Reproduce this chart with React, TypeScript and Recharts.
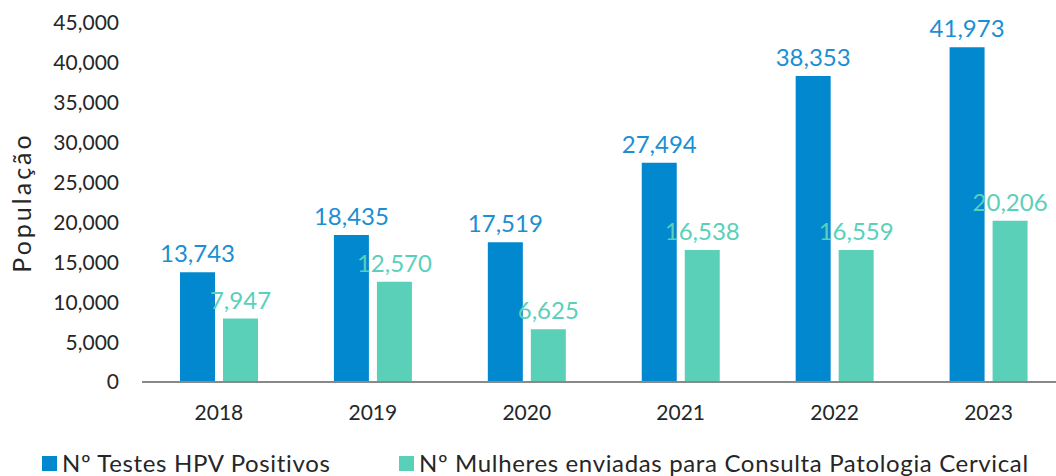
import React from 'react';
import { BarChart, Bar, XAxis, YAxis, Legend, LabelList, Label } from 'recharts';

const years = ['2018', '2019', '2020', '2021', '2022', '2023'];
const testesPositivos = [13743, 18435, 17519, 27494, 38353, 41973];
const mulheresEnviadas = [7947, 12570, 6625, 16538, 16559, 20206];
const yTicks = [0, 5000, 10000, 15000, 20000, 25000, 30000, 35000, 40000, 45000];
const seriesOrder = ['testes', 'mulheres'];

const BLUE = '#0288CE';
const TEAL = '#5AD0B9';
const TEXT = '#262626';

const data = years.map((year, i) => ({
  year,
  testes: testesPositivos[i],
  mulheres: mulheresEnviadas[i],
}));

const fmt = (v: number) => v.toLocaleString('en-US');

// legenda desenhada à mão para acertar o espaçamento
const renderLegend = (props: any) => {
  const payload = [...(props.payload || [])].sort(
    (a: any, b: any) => seriesOrder.indexOf(a.dataKey) - seriesOrder.indexOf(b.dataKey)
  );
  return (
    <div style={{ display: 'flex', alignItems: 'center', whiteSpace: 'nowrap' }}>
      {payload.map((entry: any, idx: number) => (
        <div
          key={idx}
          style={{
            display: 'flex',
            alignItems: 'center',
            flex: 'none',
            width: idx === 0 ? 357 : 'auto',
          }}
        >
          <span style={{ width: 15, height: 15, background: entry.color, marginRight: 5, display: 'inline-block' }} />
          <span style={{ fontSize: 24, letterSpacing: 0.65, color: TEXT, lineHeight: '26px' }}>{entry.value}</span>
        </div>
      ))}
    </div>
  );
};

export default function App() {
  return (
    <div
      style={{
        position: 'absolute',
        left: 0,
        top: 0,
        width: 1056,
        height: 476,
        overflow: 'hidden',
        background: '#fff',
        fontFamily: 'Lato, sans-serif',
      }}
    >
      <BarChart
        width={1070}
        height={476}
        data={data}
        margin={{ top: 23, right: 4.5, bottom: 0, left: 0 }}
        barGap={8}
      >
        <XAxis
          dataKey="year"
          height={94}
          axisLine={{ stroke: '#898989', strokeWidth: 2 }}
          tickLine={false}
          tickSize={21}
          tickMargin={2}
          tick={{ fill: TEXT, fontSize: 21 }}
        />
        <YAxis
          width={142}
          domain={[0, 45000]}
          ticks={yTicks}
          axisLine={false}
          tickLine={false}
          tickSize={21}
          tickMargin={2}
          tickFormatter={fmt}
          tick={{ fill: TEXT, fontSize: 21 }}
        >
          <Label
            value="População"
            angle={-90}
            position="center"
            dx={-49}
            style={{ fill: TEXT, fontSize: 25, letterSpacing: 3 }}
          />
        </YAxis>
        <Legend
          layout="horizontal"
          verticalAlign="middle"
          align="center"
          content={renderLegend}
          wrapperStyle={{ left: 42, top: 450, width: 1010 }}
        />
        <Bar dataKey="testes" name="Nº Testes HPV Positivos" fill={BLUE} barSize={35} isAnimationActive={false}>
          <LabelList dataKey="testes" position="top" offset={10} formatter={fmt} style={{ fill: '#1A8FD3', fontSize: 24 }} />
        </Bar>
        <Bar
          dataKey="mulheres"
          name="Nº Mulheres enviadas para Consulta Patologia Cervical"
          fill={TEAL}
          barSize={35}
          isAnimationActive={false}
        >
          <LabelList dataKey="mulheres" position="top" offset={10} formatter={fmt} style={{ fill: TEAL, fontSize: 24 }} />
        </Bar>
      </BarChart>
    </div>
  );
}
